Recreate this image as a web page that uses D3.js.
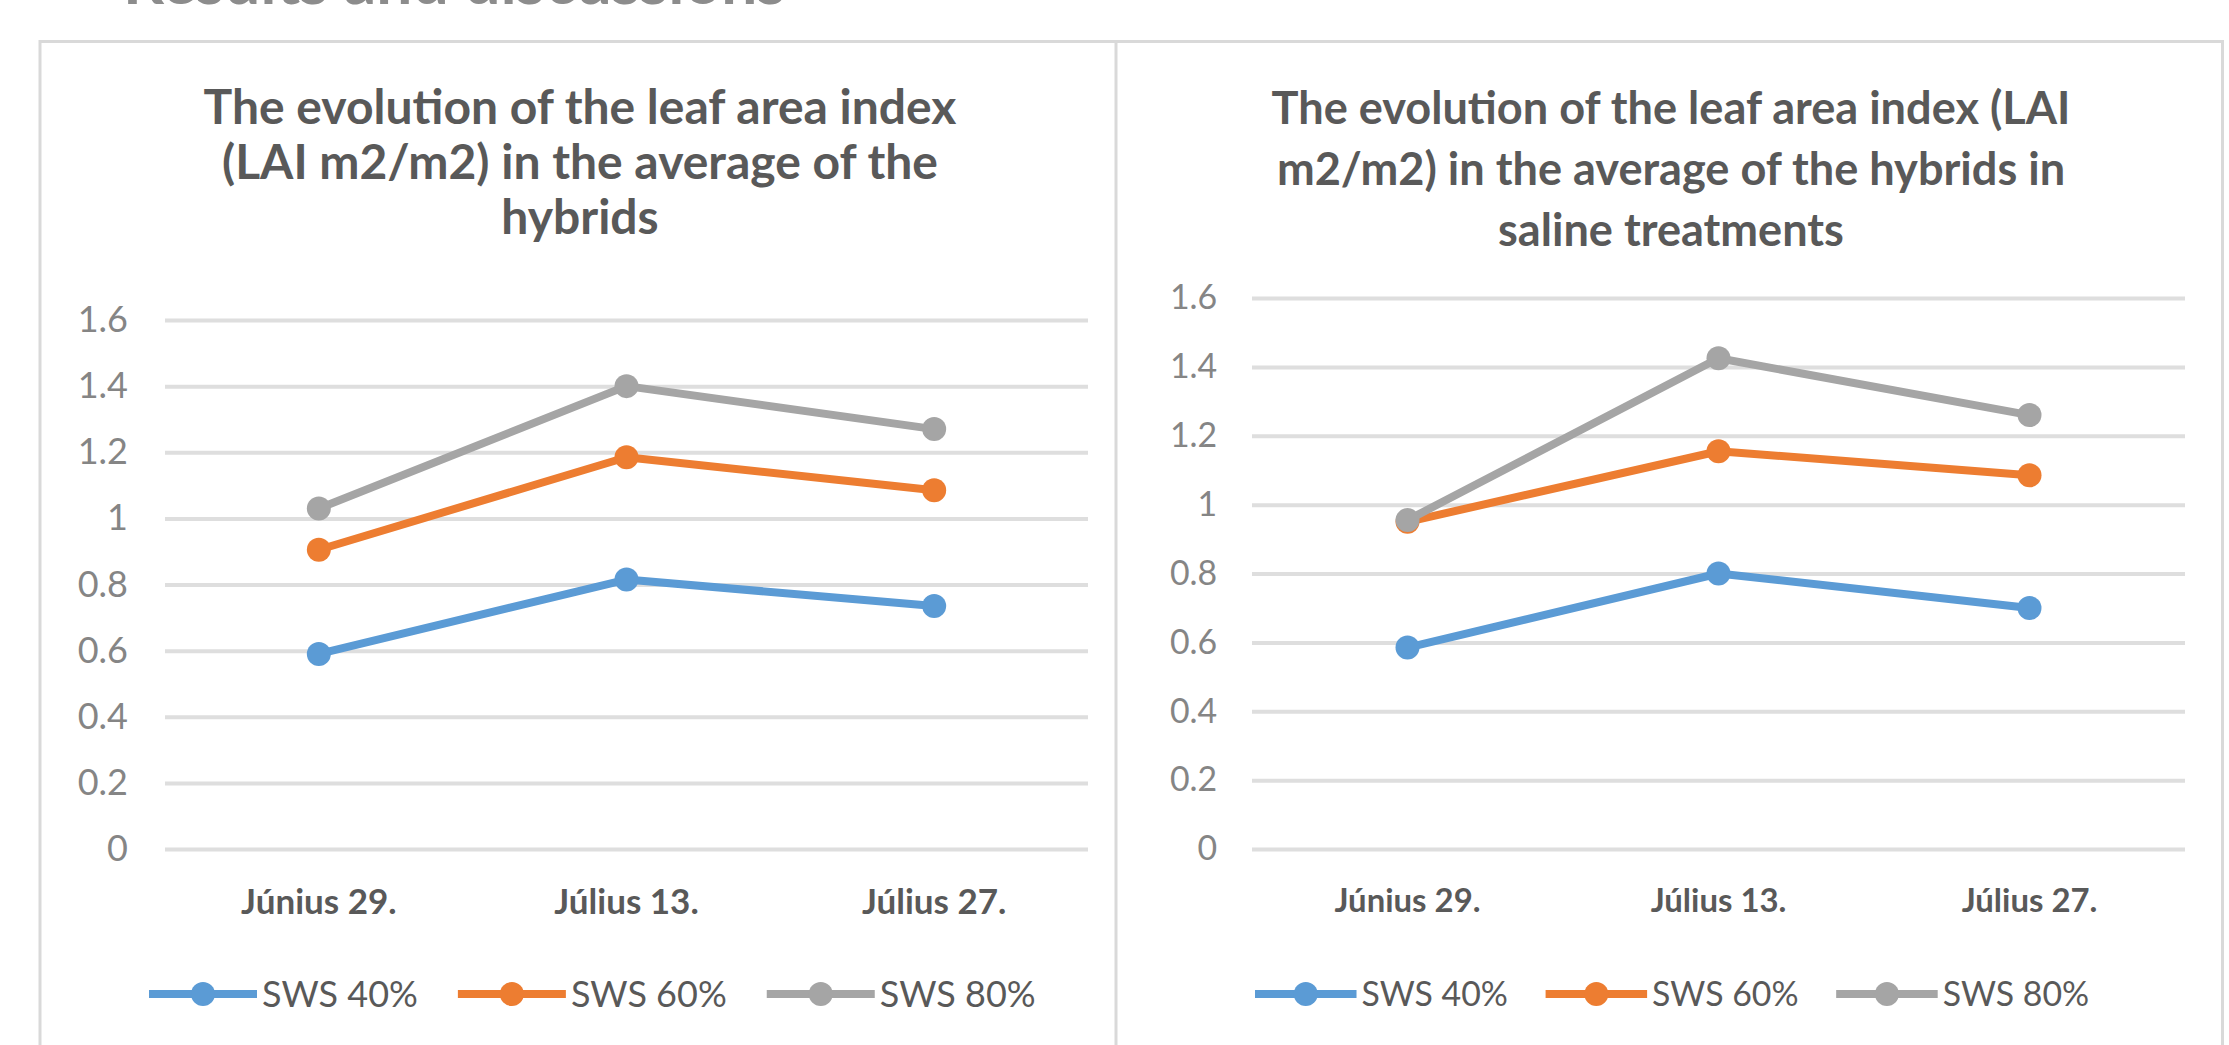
<!DOCTYPE html>
<meta charset="utf-8">
<head>
    <script src="https://d3js.org/d3.v7.min.js"></script>
    <style>
        body { margin: 0; background: #fff; }
        svg { display: block; font-family: Lato, 'Open Sans', sans-serif; }
    </style>
</head>
<body>
    <div id="chart"></div>
    <script>

    // data
    var categories = ["Június 29.", "Július 13.", "Július 27."]
    var seriesNames = ["SWS 40%", "SWS 60%", "SWS 80%"]
    var yTicks = [0, 0.2, 0.4, 0.6, 0.8, 1, 1.2, 1.4, 1.6]
    var yTickLabels = ["0", "0.2", "0.4", "0.6", "0.8", "1", "1.2", "1.4", "1.6"]

    // chart 1: average of the hybrids
    var leftSws40 = [0.59, 0.815, 0.735]
    var leftSws60 = [0.905, 1.185, 1.085]
    var leftSws80 = [1.03, 1.40, 1.27]

    // chart 2: average of the hybrids in saline treatments
    var rightSws40 = [0.585, 0.80, 0.70]
    var rightSws60 = [0.95, 1.155, 1.085]
    var rightSws80 = [0.955, 1.425, 1.26]

    var leftTitle = ["The evolution of the leaf area index", "(LAI m2/m2) in the average of the", "hybrids"]
    var rightTitle = ["The evolution of the leaf area index (LAI", "m2/m2) in the average of the hybrids in", "saline treatments"]

    var colors = ["#5b9bd5", "#ed7d31", "#a5a5a5"]

    var width = 2229
        height = 1045

    var svg = d3.select("#chart")
                .append("svg")
                .attr("width", width)
                .attr("height", height)

    svg.append("rect").attr("width", width).attr("height", height).attr("fill", "#fff")

    // page heading, mostly cut off at the top
    svg.append("text")
        .attr("x", 123)
        .attr("y", 4)
        .style("font-size", "64px")
        .style("font-weight", "bold")
        .attr("fill", "#8c8c8c")
        .text("Results and discussions")

    // panel frames
    var frame = svg.append("g").attr("fill", "none").attr("stroke", "#d9d9d9").attr("stroke-width", 3)
    frame.append("path").attr("d", "M40,1050V41.5H2222.5V1050")
    frame.append("path").attr("d", "M1116,41.5V1050")

    var panels = [
        { cx: 580, title: leftTitle, values: [leftSws40, leftSws60, leftSws80],
          x0: 165, x1: 1088, yTop: 320, fs: 1, legendX: 149, titleGap: 55 },
        { cx: 1671, title: rightTitle, values: [rightSws40, rightSws60, rightSws80],
          x0: 1252, x1: 2185, yTop: 298, fs: 0.94, legendX: 1255, titleGap: 61 }
    ]

    panels.forEach(function(p) {
        var g = svg.append("g")
        var yBottom = 849

        var x = d3.scaleBand().domain(categories).range([p.x0, p.x1]).padding(0)
        var y = d3.scaleLinear().domain([0, 1.6]).range([yBottom, p.yTop])

        // title
        g.append("text")
            .attr("text-anchor", "middle")
            .attr("fill", "#595959")
            .style("font-size", (48 * p.fs) + "px")
            .style("font-weight", "bold")
            .selectAll("tspan")
            .data(p.title)
            .enter()
            .append("tspan")
            .attr("x", p.cx)
            .attr("y", function(d, i) { return 124 + i * p.titleGap })
            .text(function(d) { return d })

        // gridlines
        g.append("g")
            .attr("transform", "translate(" + p.x0 + ",0)")
            .call(d3.axisLeft(y).tickValues(yTicks).tickSize(-(p.x1 - p.x0)).tickFormat(""))
            .call(function(a) { a.select(".domain").remove() })
            .selectAll("line")
            .attr("stroke", "#dedede")
            .attr("stroke-width", 4)

        // y tick labels
        g.append("g")
            .attr("transform", "translate(" + (p.x0 - 37 * p.fs) + ",0)")
            .call(d3.axisLeft(y).tickValues(yTicks).tickSize(0).tickPadding(0)
                .tickFormat(function(d, i) { return yTickLabels[i] }))
            .call(function(a) { a.select(".domain").remove() })
            .selectAll("text")
            .attr("fill", "#858585")
            .style("font-family", "Lato, sans-serif")
            .style("font-size", (36 * p.fs) + "px")

        // x labels
        g.append("g")
            .attr("transform", "translate(0," + yBottom + ")")
            .call(d3.axisBottom(x).tickSize(0).tickPadding(40))
            .call(function(a) { a.select(".domain").remove() })
            .selectAll("text")
            .attr("fill", "#595959")
            .style("font-family", "Lato, sans-serif")
            .style("font-weight", "bold")
            .style("font-size", (35 * p.fs) + "px")

        // lines and markers
        var line = d3.line()
                    .x(function(d, i) { return x(categories[i]) + x.bandwidth() / 2 })
                    .y(function(d) { return y(d) })

        p.values.forEach(function(vals, s) {
            g.append("path")
                .attr("d", line(vals))
                .attr("fill", "none")
                .attr("stroke", colors[s])
                .attr("stroke-width", 8)
                .attr("stroke-linejoin", "round")

            g.selectAll(null)
                .data(vals)
                .enter()
                .append("circle")
                .attr("cx", function(d, i) { return x(categories[i]) + x.bandwidth() / 2 })
                .attr("cy", function(d) { return y(d) })
                .attr("r", 12)
                .attr("fill", colors[s])
        })

        // legend
        var lx = p.legendX
        var ly = 994
        var lineLen = 108 * p.fs
        seriesNames.forEach(function(name, s) {
            g.append("line")
                .attr("x1", lx).attr("x2", lx + lineLen)
                .attr("y1", ly).attr("y2", ly)
                .attr("stroke", colors[s])
                .attr("stroke-width", 8)
            g.append("circle")
                .attr("cx", lx + lineLen / 2).attr("cy", ly)
                .attr("r", 12)
                .attr("fill", colors[s])
            var t = g.append("text")
                .attr("x", lx + lineLen + 5)
                .attr("y", ly)
                .attr("dy", "0.35em")
                .attr("fill", "#595959")
                .style("font-size", (36 * p.fs) + "px")
                .text(name)
            lx = lx + lineLen + 5 + t.node().getComputedTextLength() + 40 * p.fs
        })
    })
    </script>
</body>
